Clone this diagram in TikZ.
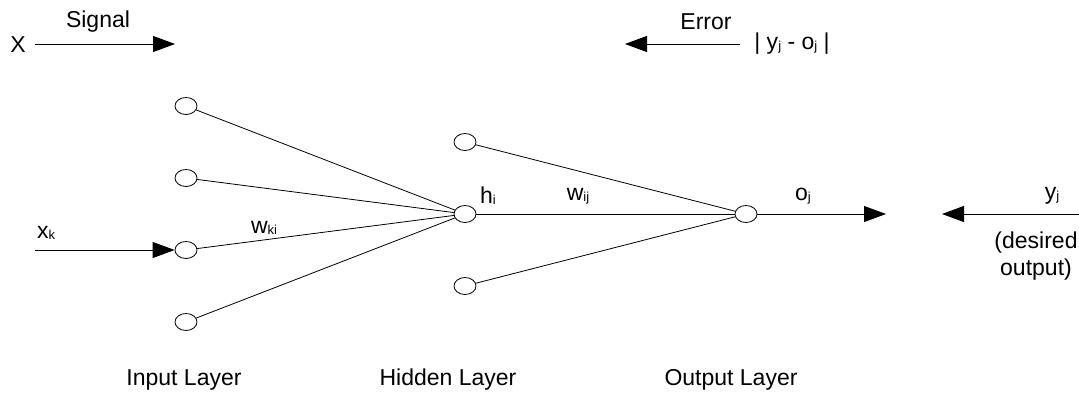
\documentclass[tikz,border=0pt]{standalone}
\usepackage{fontspec}
\setmainfont{Liberation Sans}
\usetikzlibrary{arrows.meta,shapes.geometric}
\tikzset{
  x=1pt,y=-1pt,
  neuron/.style={draw,ellipse,minimum width=22pt,minimum height=17pt,inner sep=0pt,line width=0.8pt},
  conn/.style={line width=0.8pt},
  arr/.style={line width=0.8pt,-{Triangle[length=22pt,width=16pt]}},
  lbl/.style={inner sep=0pt,font=\fontsize{23}{27}\selectfont},
}
\newcommand{\sbs}[1]{\raisebox{-1pt}{\fontsize{13}{15}\selectfont #1}}
\begin{document}
\begin{tikzpicture}
\useasboundingbox (0,0) rectangle (1079,394);
% nodes
\node[neuron] (i1) at (186,106) {};
\node[neuron] (i2) at (186,178) {};
\node[neuron] (i3) at (186,250) {};
\node[neuron] (i4) at (186,322) {};
\node[neuron] (h1) at (465,142) {};
\node[neuron] (h) at (465,214) {};
\node[neuron] (h3) at (465,286) {};
\node[neuron] (o) at (746,214) {};
% connections
\foreach \n in {i1,i2,i3,i4} \draw[conn] (\n) -- (h);
\foreach \n in {h1,h,h3} \draw[conn] (\n) -- (o);
% arrows
\coordinate (sigA) at (35,44);
\coordinate (sigB) at (175,44);
\draw[arr] (sigA) -- (sigB);
\coordinate (errA) at (740,44);
\coordinate (errB) at (625,44);
\draw[arr] (errA) -- (errB);
\coordinate (xkA) at (35,250);
\draw[arr] (xkA) -- (i3);
\coordinate (outB) at (886,214);
\draw[arr] (o) -- (outB);
\coordinate (yA) at (1079,214);
\coordinate (yB) at (942,214);
\draw[arr] (yA) -- (yB);
% labels
\node[lbl] (X) at (18,45) {X};
\node[lbl] (sig) at (98,22) {Signal};
\node[lbl] (err) at (706,22) {Error};
\node[lbl] (diff) at (792,44) {| y\sbs{j} - o\sbs{j} |};
\node[lbl] (xk) at (46,233) {x\sbs{k}};
\node[lbl] (wki) at (264,228) {w\sbs{ki}};
\node[lbl] (hi) at (488,196) {h\sbs{i}};
\node[lbl] (wij) at (578,196) {w\sbs{ij}};
\node[lbl] (oj) at (803,196) {o\sbs{j}};
\node[lbl] (yj) at (1052,196) {y\sbs{j}};
\node[lbl,align=center] (des) at (1036,256) {(desired\\output)};
\node[lbl] (L1) at (184,380) {Input Layer};
\node[lbl] (L2) at (448,380) {Hidden Layer};
\node[lbl] (L3) at (731,380) {Output Layer};
\end{tikzpicture}
\end{document}
